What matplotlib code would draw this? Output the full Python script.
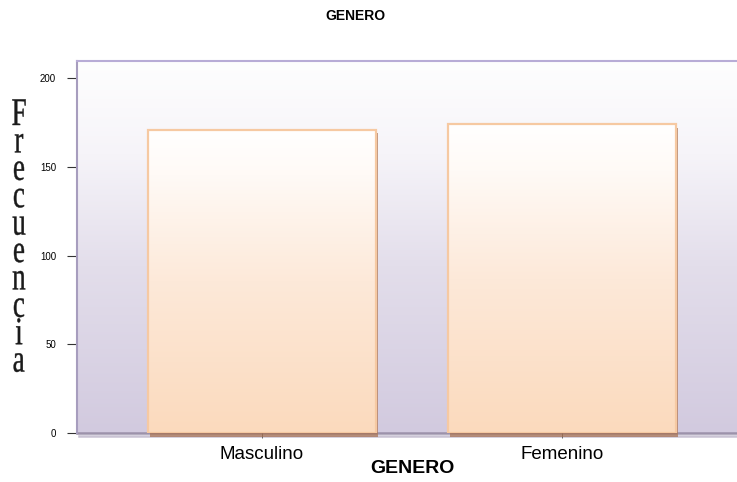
import numpy as np
import matplotlib
matplotlib.use("Agg")
import matplotlib.pyplot as plt
import matplotlib.patheffects as pe
from matplotlib.colors import LinearSegmentedColormap
from matplotlib.textpath import TextPath
from matplotlib.patches import PathPatch
from matplotlib.font_manager import FontProperties
from matplotlib.transforms import Affine2D, IdentityTransform

# Data
categories = ["Masculino", "Femenino"]
frecuencia = [171, 174]
y_ticks = [0, 50, 100, 150, 200]
title = "GENERO"
x_label = "GENERO"
y_label = "Frecuencia"

plt.rcParams["font.family"] = ["Liberation Sans", "DejaVu Sans"]

fig = plt.figure(figsize=(7.37, 4.82), dpi=100)
ax = fig.add_axes([77 / 737, 49 / 482, 670 / 737, 372 / 482])

x = np.arange(len(categories))
ax.set_xlim(-0.617, len(categories) - 1 + 0.617)
ax.set_ylim(0, 209.6)

# background gradient (white top -> lavender bottom)
bg_cmap = LinearSegmentedColormap.from_list(
    "bg", [(0.0, "#d2cadf"), (0.45, "#e3deeb"), (0.75, "#f6f4f9"), (1.0, "#fefefe")])
grad = np.linspace(0, 1, 256).reshape(-1, 1)
ax.imshow(grad, cmap=bg_cmap, origin="lower", aspect="auto",
          extent=(*ax.get_xlim(), *ax.get_ylim()), zorder=0)

# bars with gradient fill and soft shadow
bar_cmap = LinearSegmentedColormap.from_list(
    "bar", [(0.0, "#fbdabd"), (0.5, "#fde9d9"), (0.85, "#fffaf6"), (1.0, "#ffffff")])
bars = ax.bar(x, frecuencia, width=0.76, facecolor="#fbdabd", edgecolor="none",
              zorder=2, clip_on=False,
              path_effects=[pe.SimplePatchShadow(offset=(1.2, -2.8), shadow_rgbFace="#a8704f",
                                                 alpha=0.7), pe.Normal()])
for b in bars:
    im = ax.imshow(grad, cmap=bar_cmap, origin="lower", aspect="auto",
                   extent=(b.get_x(), b.get_x() + b.get_width(), 0, b.get_height()),
                   zorder=2.5)
    im.set_clip_path(b)
ax.bar(x, frecuencia, width=0.76, facecolor="none", edgecolor="#f6c9a2",
       linewidth=1.6, zorder=3)

ax.set_xlim(-0.617, len(categories) - 1 + 0.617)
ax.set_ylim(0, 209.6)

# spines
ax.spines["right"].set_visible(False)
ax.spines["left"].set_color("#a79dbe")
ax.spines["left"].set_linewidth(1.5)
ax.spines["top"].set_color("#b8acd6")
ax.spines["top"].set_linewidth(1.5)
ax.spines["bottom"].set_color("#9c92aa")
ax.spines["bottom"].set_linewidth(1.8)
ax.spines["bottom"].set_zorder(1)
ax.spines["bottom"].set_path_effects(
    [pe.SimpleLineShadow(offset=(1.5, -2), shadow_color="#a59bb6", alpha=0.6), pe.Normal()])

ax.set_yticks(y_ticks)
ax.tick_params(axis="y", length=7, width=0.8, color="#333333", labelsize=7, pad=8)
ax.set_xticks(x)
ax.set_xticklabels(categories)
ax.tick_params(axis="x", length=3.5, width=0.6, color="#555555", labelsize=13.5, pad=6)

ax.set_xlabel(x_label, fontsize=14, fontweight="bold", labelpad=-2)
fig.text(355 / 737, 1 - 16 / 482, title, ha="center", va="center",
         fontsize=10, fontweight="bold")

# stacked, tall serif letters for the y label
fp = FontProperties(family="Liberation Serif")
size = 27
sx, sy = 1.0, 1.45
pitch = 27.4
base_top = 482 - 125
for i, ch in enumerate(y_label):
    tp = TextPath((0, 0), ch, size=size, prop=fp)
    ext = tp.get_extents()
    cx = (ext.x0 + ext.x1) / 2
    tr = Affine2D().translate(-cx, 0).scale(sx, sy).translate(19, base_top - i * pitch)
    patch = PathPatch(tr.transform_path(tp), facecolor="#1a1a1a", edgecolor="#1a1a1a",
                      linewidth=0.3)
    patch.set_transform(IdentityTransform())
    fig.add_artist(patch)

fig.savefig("out.png", dpi=100)
